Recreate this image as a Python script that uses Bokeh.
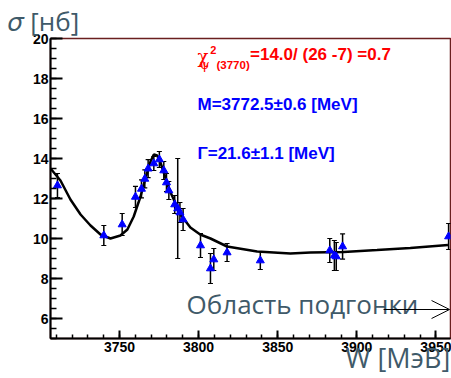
from bokeh.plotting import figure
from bokeh.models import ColumnDataSource, Whisker, TeeHead, Label, Arrow, OpenHead, FixedTicker, Title
from bokeh.embed import file_html
from bokeh.resources import INLINE

# measured points
W = [3710.8, 3740.1, 3751.7, 3760.1, 3763.9, 3766.0, 3768.1, 3771.7, 3775.2, 3778.0,
     3779.7, 3781.2, 3784.9, 3786.8, 3788.2, 3790.2, 3801.2, 3807.5, 3809.6, 3818.0,
     3839.0, 3882.9, 3885.8, 3887.0, 3891.0, 3958.0]
sigma = [12.65, 10.15, 10.7, 12.08, 12.48, 12.98, 13.49, 13.75, 13.95, 13.4,
         12.8, 12.4, 11.7, 11.5, 11.3, 10.95, 9.65, 8.5, 8.95, 9.3,
         8.9, 9.4, 9.15, 9.1, 9.6, 10.1]
err = [0.6, 0.5, 0.55, 0.53, 0.45, 0.45, 0.45, 0.35, 0.4, 0.45,
       0.45, 0.45, 0.45, 2.5, 0.5, 0.55, 0.6, 0.75, 0.55, 0.45,
       0.45, 0.6, 0.75, 0.7, 0.63, 0.65]

# fitted curve
fit_W = [3706.4, 3712.7, 3719.0, 3725.4, 3731.7, 3738.0, 3744.3, 3750.6, 3755.0, 3759.0,
         3763.3, 3765.5, 3767.5, 3769.6, 3771.7, 3773.8, 3775.9, 3778.0, 3780.0, 3782.0,
         3784.3, 3788.5, 3794.8, 3801.0, 3807.5, 3818.0, 3837.0, 3858.0, 3870.7, 3891.7,
         3912.8, 3933.8, 3957.6]
fit_sigma = [13.5, 12.9, 11.95, 11.2, 10.65, 10.2, 10.0, 10.15, 10.45, 11.1,
             12.1, 12.75, 13.3, 13.85, 14.2, 14.15, 13.8, 13.3, 12.8, 12.35,
             11.95, 11.2, 10.55, 10.2, 10.0, 9.6, 9.35, 9.25, 9.3, 9.33,
             9.42, 9.53, 9.67]

x_ticks = [3750, 3800, 3850, 3900, 3950]
y_ticks = [6, 8, 10, 12, 14, 16, 18, 20]

src = ColumnDataSource(dict(x=W, y=sigma,
                            lo=[s - e for s, e in zip(sigma, err)],
                            hi=[s + e for s, e in zip(sigma, err)]))

gray = "#3f5a69"

p = figure(width=451, height=378, x_range=(3706.4, 3959.2), y_range=(5, 20),
           output_backend="svg", toolbar_location=None,
           min_border_left=50, min_border_right=1, min_border_top=38, min_border_bottom=40)
p.xgrid.visible = False
p.ygrid.visible = False
p.outline_line_color = "#6a1f1f"
p.outline_line_width = 1.5
p.background_fill_color = "white"

for ax in (p.xaxis[0], p.yaxis[0]):
    ax.axis_line_color = "black"
    ax.axis_line_width = 2
    ax.major_tick_line_color = "black"
    ax.major_tick_line_width = 2
    ax.minor_tick_line_color = "black"
    ax.minor_tick_line_width = 1.5
    ax.major_tick_out = 0
    ax.minor_tick_out = 0
    ax.major_label_text_font = "Liberation Sans"
    ax.major_label_text_font_style = "bold"
    ax.major_label_text_font_size = "14px"
    ax.major_label_text_color = "black"

p.xaxis.ticker = FixedTicker(ticks=x_ticks, minor_ticks=list(range(3710, 3960, 10)))
p.yaxis.ticker = FixedTicker(ticks=y_ticks, minor_ticks=[5 + 0.5 * i for i in range(31)])
p.xaxis.major_tick_in = 8
p.xaxis.minor_tick_in = 4
p.yaxis.major_tick_in = 12
p.yaxis.minor_tick_in = 6
p.xaxis.major_label_standoff = 3
p.yaxis.major_label_standoff = 2

# axis titles (label is centred on the frame's end; trailing no-break spaces push it left)
xa = p.xaxis[0]
xa.axis_label = "W [МэВ]" + "\u00a0" * 15
xa.axis_label_align = "end"
xa.axis_label_standoff = -16
xa.axis_label_text_line_height = 0.9
xa.axis_label_text_font = "Open Sans"
xa.axis_label_text_font_style = "normal"
xa.axis_label_text_font_size = "27px"
xa.axis_label_text_color = gray

p.add_layout(Title(text="𝜎  [нб]", align="left", offset=-43, standoff=0,
                   text_font="Open Sans", text_font_style="normal",
                   text_font_size="26px", text_color=gray), "above")

p.line(fit_W, fit_sigma, line_color="black", line_width=2.5)
p.add_layout(Whisker(source=src, base="x", lower="lo", upper="hi",
                     line_color="black", line_width=1.5,
                     upper_head=TeeHead(size=5, line_color="black", line_width=1.2),
                     lower_head=TeeHead(size=5, line_color="black", line_width=1.2)))
p.scatter("x", "y", source=src, marker="triangle", size=8, fill_color="#0000ff", line_color="#0000ff")

red = "#ff0000"
blue = "#0000ff"

def lab(x, y, text, color, size, font="Liberation Sans", style="bold", baseline="middle"):
    p.add_layout(Label(x=x, y=y, text=text, text_color=color, text_font_size=size,
                       text_font=font, text_font_style=style, text_baseline=baseline,
                       text_align="left"))

lab(3799.3, 19.1, "χ", red, "18px", font="DejaVu Serif", style="normal")
lab(3807.3, 19.45, "2", red, "11px")
lab(3800.6, 18.7, "ψ", red, "13px", font="DejaVu Serif", style="normal")
lab(3811.3, 18.7, "(3770)", red, "11.5px")
lab(3832.5, 19.2, "=14.0/ (26 -7) =0.7", red, "17px")
lab(3799.3, 16.7, "M=3772.5±0.6 [MeV]", blue, "17px")
lab(3799.3, 14.25, "Γ=21.6±1.1 [MeV]", blue, "17px")

lab(3792.4, 6.75, "Область подгонки", gray, "26px", font="Open Sans", style="normal", baseline="alphabetic")

p.add_layout(Arrow(x_start=3916.9, y_start=6.45, x_end=3958.6, y_end=6.45,
                   line_color="black", line_width=1,
                   end=OpenHead(size=18, line_color="black", line_width=1)))

open("out.html", "w").write(file_html(p, INLINE))
